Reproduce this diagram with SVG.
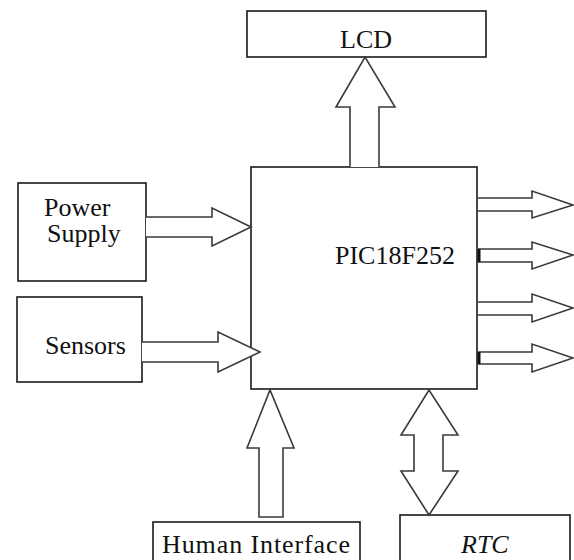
<svg xmlns="http://www.w3.org/2000/svg" width="574" height="560" viewBox="0 0 574 560">
<style>
.box{fill:#fff;stroke:#1a1a1a;stroke-width:1.6}
.arr{fill:#fff;stroke:#3a3a3a;stroke-width:1.6;stroke-linejoin:miter}
.lbl{font-family:"Liberation Serif","Times New Roman",serif;font-size:26px;fill:#111}
.mark{stroke:#111;stroke-width:3}
</style>
<rect width="574" height="560" fill="#fff"/>
<g id="lcd"><rect class="box" x="247" y="11" width="239" height="46"/><text class="lbl" x="340" y="48">LCD</text></g>
<g id="power"><rect class="box" x="18" y="183" width="128" height="98"/><text class="lbl" x="44" y="216">Power</text><text class="lbl" x="47" y="242">Supply</text></g>
<g id="sensors"><rect class="box" x="17" y="297" width="125" height="85"/><text class="lbl" x="45" y="354">Sensors</text></g>
<g id="pic"><rect class="box" x="251" y="167" width="226" height="222"/><text class="lbl" x="335" y="264">PIC18F252</text></g>
<g id="human"><rect class="box" x="153" y="522" width="207" height="50"/><text class="lbl" x="162" y="553" letter-spacing="0.9">Human Interface</text></g>
<g id="rtc"><rect class="box" x="400" y="515" width="170" height="57"/><text class="lbl" x="461" y="553" font-style="italic">RTC</text></g>
<g id="connectors">
<path class="arr" d="M350,167 V107 H336 L365,57 L395,107 H379 V167"/>
<path class="arr" d="M146,217 H212 V208 L251,227 L212,246 V237 H146"/>
<path class="arr" d="M142,342 H218 V332 L260,352 L218,372 V362 H142"/>
<path class="arr" d="M259,517 V448 H247 L270,390 L294,448 H283 V517 Z"/>
<path class="arr" d="M414,435 H401 L429,390 L458,435 H443 V471 H458 L429,515 L401,471 H414 Z"/>
<path class="arr" d="M478,198 H532 V191 L573,205 L532,218 V211 H478"/>
<path class="arr" d="M478,249 H532 V242 L573,255 L532,269 V262 H478"/>
<path class="arr" d="M478,302 H532 V294 L573,308 L532,322 V315 H478"/>
<path class="arr" d="M478,352 H532 V344 L573,358 L532,372 V364 H478"/>
<line class="mark" x1="479" y1="249" x2="479" y2="262"/>
<line class="mark" x1="479" y1="352" x2="479" y2="364"/>
</g>
</svg>
